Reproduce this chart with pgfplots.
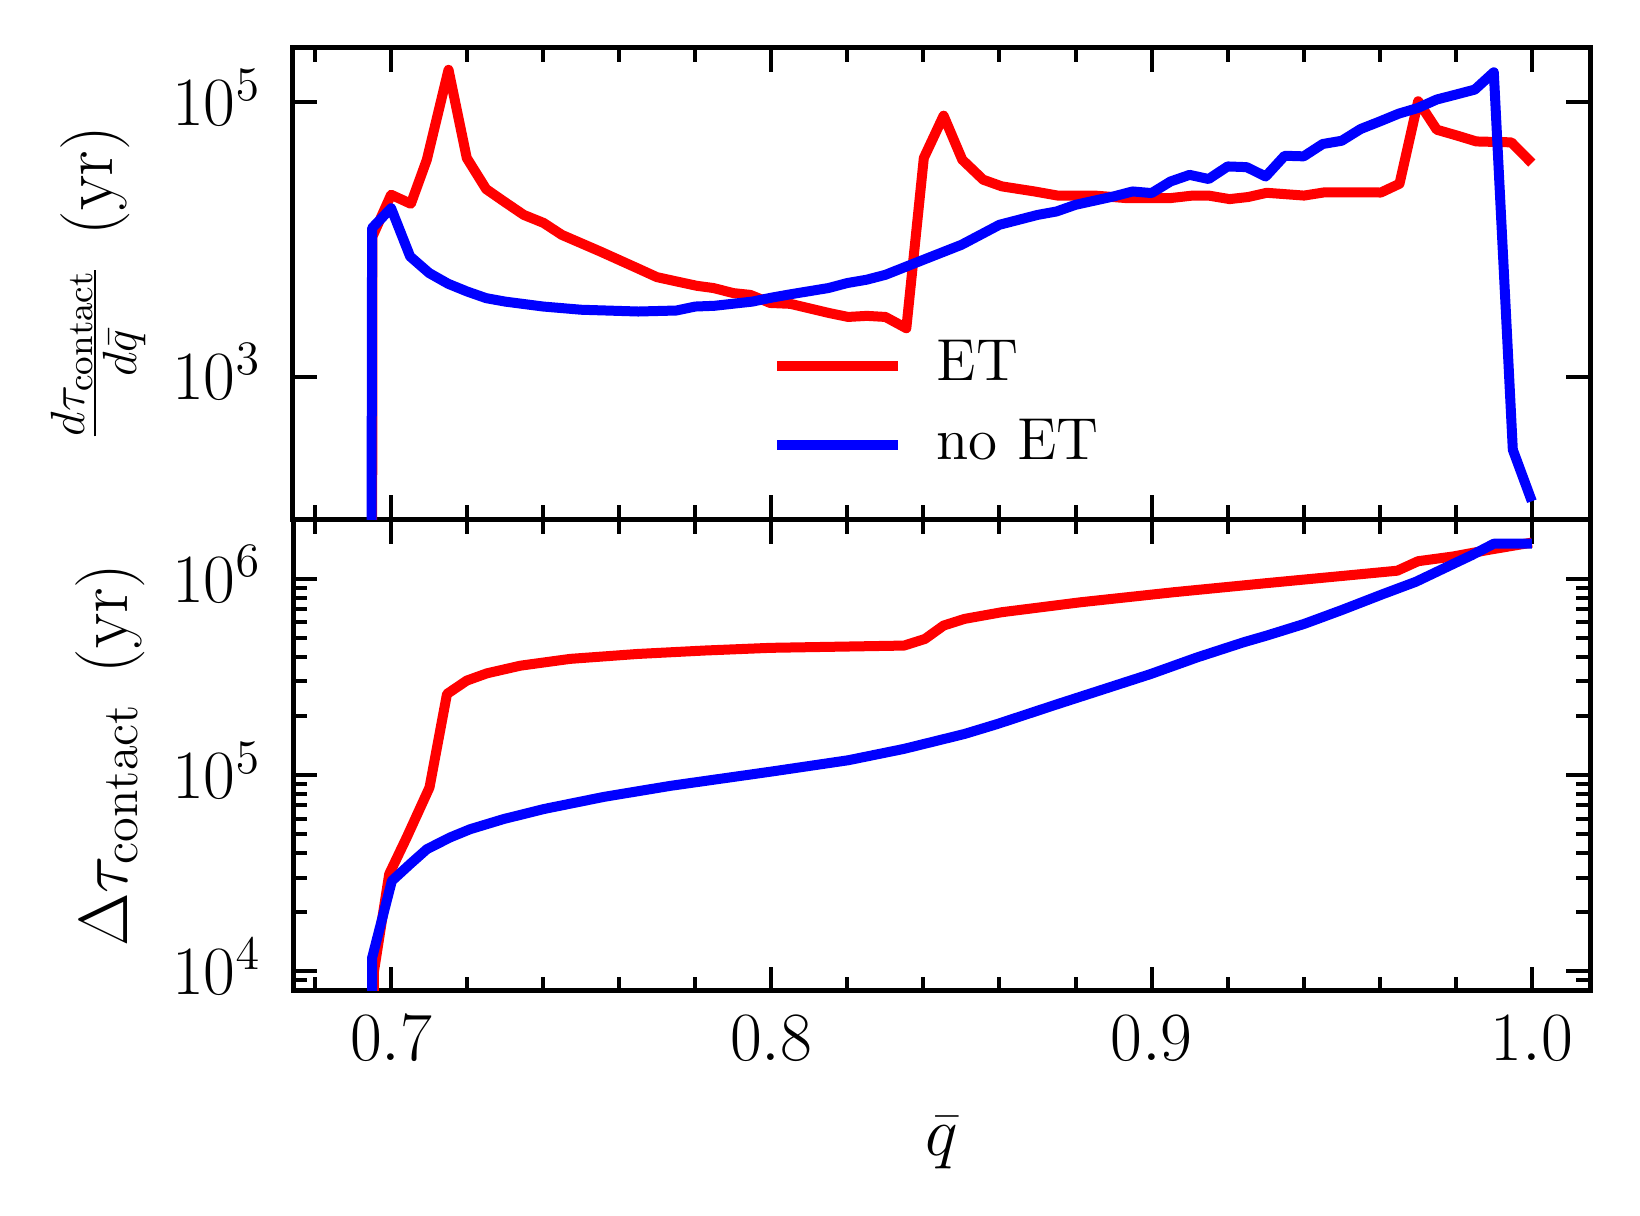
\documentclass[border=0pt]{standalone}
\usepackage{fontspec}
\usepackage{pgfplots}
\pgfplotsset{compat=1.18}
\pgfplotsset{
  every axis/.append style={
    scale only axis, width=324.25pt, height=117.8pt,
    xmin=0.6742, xmax=1.0153,
    xtick={0.7,0.8,0.9,1.0},
    minor xtick={0.68,0.72,0.74,0.76,0.78,0.82,0.84,0.86,0.88,0.92,0.94,0.96,0.98},
    axis line style={line width=1.25pt},
    every tick/.style={black, line width=1pt},
    major tick length=6pt, minor tick length=3.5pt,
    tick align=inside,
    yticklabel style={anchor=base east, yshift=-5.8pt, xshift=-1.75pt},
  },
  every axis y label/.style={at={(axis description cs:-0.15,0.5)}, rotate=90, anchor=center},
  every axis plot/.append style={line width=2.5pt, line join=round},
}
\begin{document}
\fontsize{18}{22}\selectfont
\begin{tikzpicture}
\path[use as bounding box] (0pt,0pt) rectangle (410pt,304pt);
% bottom panel
\begin{axis}[ymode=log, at={(73.25pt,56.25pt)}, anchor=south west,
  ymin=7943, ymax=2.0e6,
  ytick={1e4,1e5,1e6},
  minor ytick={9000,20000,30000,40000,50000,60000,70000,80000,90000,200000,300000,400000,500000,600000,700000,800000,900000},
  xticklabels={$0.7$,$0.8$,$0.9$,$1.0$},
  xlabel={$\bar{q}$},
  xlabel style={at={(axis description cs:0.5,-0.35)}, anchor=base},
  ylabel={$\Delta\tau_{\mathrm{contact}}\hspace{7.5pt}(\mathrm{yr})$},
  ylabel style={at={(axis description cs:-0.141,0.5)}},
]
\addplot[red] coordinates {
(0.6950,1000) (0.6955,1.0e4) (0.6995,3.13e4) (0.7041,4.81e4) (0.7101,8.65e4)
(0.7147,2.59e5) (0.7199,3.03e5) (0.7252,3.30e5) (0.7340,3.61e5) (0.7471,3.91e5)
(0.7647,4.14e5) (0.7822,4.31e5) (0.7997,4.45e5) (0.8349,4.57e5) (0.8404,4.94e5)
(0.8453,5.78e5) (0.8508,6.25e5) (0.8606,6.76e5) (0.8814,7.60e5) (0.9059,8.55e5)
(0.9303,9.51e5) (0.9646,1.10e6) (0.9701,1.23e6) (0.9793,1.30e6) (0.9891,1.41e6)
(1.0000,1.53e6)
};
\addplot[blue] coordinates {
(0.6948,100) (0.6950,1.17e4) (0.7002,2.89e4) (0.7050,3.52e4) (0.7094,4.19e4)
(0.7155,4.81e4) (0.7208,5.30e4) (0.7296,5.97e4) (0.7401,6.71e4) (0.7559,7.74e4)
(0.7734,8.81e4) (0.7997,1.04e5) (0.8202,1.19e5) (0.8349,1.36e5) (0.8508,1.62e5)
(0.8594,1.82e5) (0.8753,2.30e5) (0.8997,3.27e5) (0.9120,3.98e5) (0.9242,4.75e5)
(0.9303,5.14e5) (0.9401,5.89e5) (0.9499,6.92e5) (0.9609,8.37e5) (0.9695,9.66e5)
(0.9793,1.19e6) (0.9842,1.32e6) (0.9900,1.51e6) (1.0000,1.51e6)
};
\end{axis}
% top panel
\begin{axis}[ymode=log, at={(73.25pt,174.2pt)}, anchor=south west,
  ymin=91, ymax=2.495e5,
  ytick={1e3,1e5},
  yminorticks=false,
  xticklabels={},
  ylabel={$\frac{d\tau_{\mathrm{contact}}}{d\bar{q}}\hspace{7.5pt}(\mathrm{yr})$},
  ylabel style={at={(axis description cs:-0.15,0.5)}},
  legend style={draw=none, fill=none, font=\fontsize{14.8}{17.8}\selectfont,
    at={(axis description cs:0.369,0.2415)}, anchor=west, inner sep=0pt,
    row sep=3pt, column sep=6.3pt},
  legend cell align=left,
  legend image code/.code={\draw[#1] (0pt,0pt) -- (30.25pt,0pt);},
]
\addplot[red] coordinates {
(0.6950,10) (0.6951,1.05e4) (0.7000,2.12e4) (0.7052,1.82e4) (0.7094,3.82e4)
(0.7151,1.73e5) (0.7199,3.93e4) (0.7250,2.33e4) (0.7296,1.90e4) (0.7349,1.51e4)
(0.7401,1.32e4) (0.7449,1.08e4) (0.7550,8.17e3) (0.7647,6.18e3) (0.7699,5.31e3)
(0.7752,4.93e3) (0.7804,4.59e3) (0.7848,4.42e3) (0.7900,4.06e3) (0.7945,3.94e3)
(0.7997,3.44e3) (0.8050,3.39e3) (0.8153,2.90e3) (0.8202,2.72e3) (0.8251,2.77e3)
(0.8300,2.72e3) (0.8355,2.25e3) (0.8401,3.93e4) (0.8453,8.00e4) (0.8502,3.82e4)
(0.8557,2.73e4) (0.8606,2.44e4) (0.8692,2.24e4) (0.8753,2.09e4) (0.8851,2.09e4)
(0.8936,2.00e4) (0.9047,2.00e4) (0.9108,2.09e4) (0.9150,2.09e4) (0.9205,1.97e4)
(0.9254,2.04e4) (0.9303,2.19e4) (0.9401,2.09e4) (0.9456,2.21e4) (0.9548,2.21e4)
(0.9603,2.20e4) (0.9652,2.55e4) (0.9701,1.02e5) (0.9750,6.32e4) (0.9805,5.71e4)
(0.9854,5.19e4) (0.9946,5.11e4) (1.0000,3.61e4)
};
\addlegendentry{ET}
\addplot[blue] coordinates {
(0.6948,10) (0.6950,1.21e4) (0.7000,1.69e4) (0.7050,7.52e3) (0.7100,5.69e3)
(0.7150,4.75e3) (0.7200,4.17e3) (0.7250,3.73e3) (0.7300,3.52e3) (0.7400,3.24e3)
(0.7500,3.07e3) (0.7650,2.98e3) (0.7750,3.03e3) (0.7800,3.24e3) (0.7850,3.28e3)
(0.7950,3.52e3) (0.8000,3.76e3) (0.8050,3.98e3) (0.8150,4.42e3) (0.8200,4.81e3)
(0.8250,5.08e3) (0.8300,5.52e3) (0.8400,7.11e3) (0.8500,9.14e3) (0.8600,1.28e4)
(0.8700,1.51e4) (0.8750,1.60e4) (0.8800,1.79e4) (0.8900,2.06e4) (0.8950,2.24e4)
(0.9000,2.18e4) (0.9050,2.65e4) (0.9100,2.96e4) (0.9150,2.76e4) (0.9200,3.41e4)
(0.9250,3.37e4) (0.9300,2.88e4) (0.9350,4.08e4) (0.9400,4.04e4) (0.9450,4.97e4)
(0.9500,5.25e4) (0.9550,6.40e4) (0.9600,7.26e4) (0.9650,8.28e4) (0.9700,9.10e4)
(0.9750,1.05e5) (0.9800,1.14e5) (0.9850,1.24e5) (0.9900,1.66e5) (0.9950,292)
(1.0000,123)
};
\addlegendentry{no ET}
\end{axis}
\end{tikzpicture}
\end{document}
